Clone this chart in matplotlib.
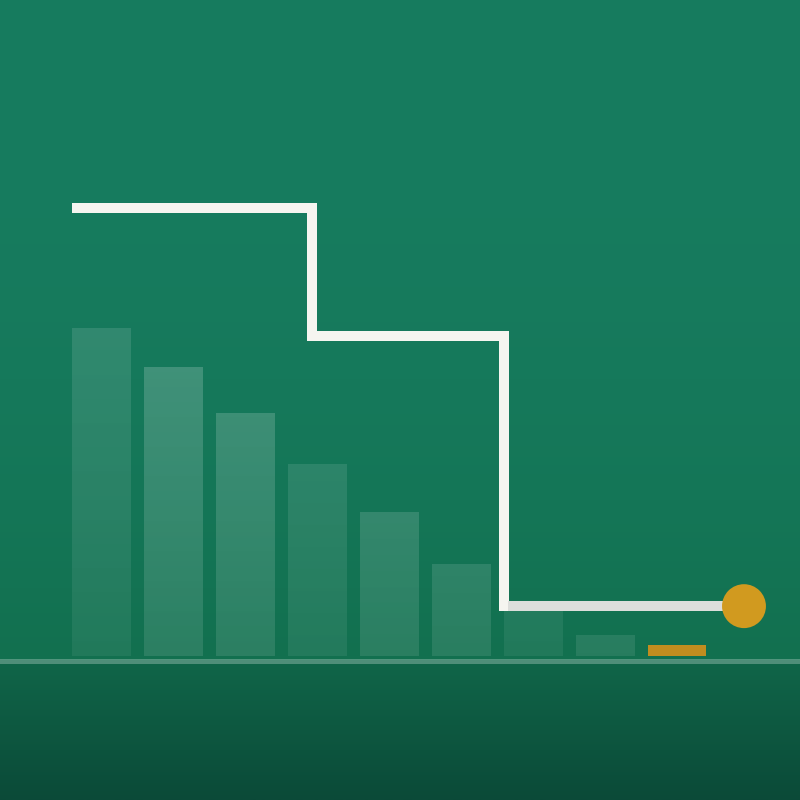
import numpy as np
import matplotlib
matplotlib.use('Agg')
import matplotlib.pyplot as plt
from matplotlib.colors import to_rgb


# Chart data

bar_pos = [0, 1, 2, 3, 4, 5, 6, 7, 8]
bar_vals = [100, 88, 74, 58.5, 44, 28, 14, 6.5, 3.5]
step_x = [-0.4, 2.93, 5.6, 8.93]
step_y = [136.6, 97.6, 15.2]
end_x = 8.93
end_y = 15.2

# Styling

bg_top = '#177c5f'
bg_mid = '#12704f'
bg_low_top = '#106649'
bg_low_bot = '#0b4a38'
gold = '#d19a1f'
gold_bar = '#c18d1f'
bar_shade = [0.62, 1.0, 1.0, 0.68, 0.95, 0.9, 0.62, 0.85]

x_lim = (-1.403, 9.708)
y_lim = (-43.9, 200)

fig = plt.figure(figsize=(8, 8), dpi=100)
ax = fig.add_axes([0, 0, 1, 1])
ax.set_xlim(*x_lim)
ax.set_ylim(*y_lim)
ax.axis('off')

# Background gradient (rows go top -> bottom)
rows = 800
ys = np.linspace(y_lim[1], y_lim[0], rows)
bg = np.zeros((rows, 1, 3))
for k, yv in enumerate(ys):
    if yv >= -1.2:
        t = (y_lim[1] - yv) / (y_lim[1] + 1.2)
        t = t ** 2.5
        c = (1 - t) * np.array(to_rgb(bg_top)) + t * np.array(to_rgb(bg_mid))
    else:
        t = (-1.2 - yv) / (-1.2 - y_lim[0])
        c = (1 - t) * np.array(to_rgb(bg_low_top)) + t * np.array(to_rgb(bg_low_bot))
    bg[k, 0] = c
ax.imshow(bg, extent=[x_lim[0], x_lim[1], y_lim[0], y_lim[1]],
          aspect='auto', zorder=0, interpolation='bilinear')

# Bars, translucent white with a vertical fade
bars = ax.bar(bar_pos[:-1], bar_vals[:-1], width=0.806, color='none',
              edgecolor='none', zorder=2)
grad_rows = 300
alpha_col = np.linspace(0.20, 0.11, grad_rows)
for rect, shade in zip(bars, bar_shade):
    img = np.ones((grad_rows, 1, 4))
    img[:, 0, 3] = alpha_col * shade
    im = ax.imshow(img, extent=[x_lim[0], x_lim[1], 0, 105],
                   aspect='auto', zorder=2, interpolation='bilinear')
    im.set_clip_path(rect)

ax.bar(bar_pos[-1], bar_vals[-1], width=0.806, color=gold_bar, zorder=3)

# Baseline
ax.axhline(-1.5, color='white', alpha=0.27, linewidth=3.6, zorder=3)

# Step line
ax.step(step_x, step_y + [step_y[-1]], where='post', color='#f5f5f0',
        linewidth=7.2, solid_capstyle='butt', solid_joinstyle='miter', zorder=4)
ax.plot([step_x[2] + 0.05, step_x[3]], [step_y[2], step_y[2]], color='#dcdedb',
        linewidth=7.2, solid_capstyle='butt', zorder=4)

# End marker
ax.scatter([end_x], [end_y], s=1000, color=gold, edgecolor='none', zorder=5)

fig.savefig('out.png', dpi=100)
